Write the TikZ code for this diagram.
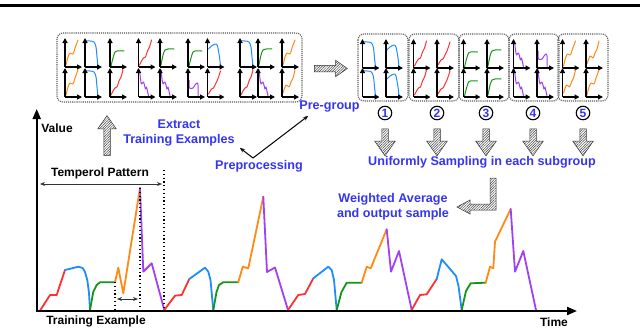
\documentclass[tikz,border=0pt]{standalone}
\usepackage{fontspec}
\setmainfont{Liberation Sans}
\usetikzlibrary{arrows.meta,positioning,shapes.arrows,patterns.meta}

\definecolor{segred}{HTML}{FF3030}
\definecolor{segblue}{HTML}{1E8CFF}
\definecolor{seggreen}{HTML}{149614}
\definecolor{segorange}{HTML}{FF8A14}
\definecolor{segpurple}{HTML}{A040F5}
\definecolor{labelblue}{HTML}{3434F2}

\tikzset{
  miniaxis/.style={line width=1.2pt, -{Triangle[length=5pt,width=5pt]}},
  minicurve/.style={line width=1pt, line join=round, line cap=round},
}

% curves of the small panels (x right, y up)
\newcommand{\curveoA}{\draw[minicurve,segorange] plot[smooth,tension=0.5] coordinates {(1,2) (3,10) (5,14) (8,13) (10,19) (13,27)};}
\newcommand{\curveoB}{\draw[minicurve,segorange] plot[smooth,tension=0.5] coordinates {(1,4) (4,12) (7,10) (9,15) (11,19) (13,27)};}
\newcommand{\curvebA}{\draw[minicurve,segblue] plot[smooth,tension=0.5] coordinates {(1,26) (5,26) (9,25) (11,20) (12,10) (13,1)};}
\newcommand{\curvebB}{\draw[minicurve,segblue] plot[smooth,tension=0.5] coordinates {(1,18) (4,21) (8,23) (10,21) (12,10) (13,1)};}
\newcommand{\curvegA}{\draw[minicurve,seggreen] plot[smooth,tension=0.5] coordinates {(1,1) (3,9) (5,15) (7,16) (14,16)};}
\newcommand{\curvegB}{\draw[minicurve,seggreen] plot[smooth,tension=0.5] coordinates {(1,2) (3,12) (5,17) (8,18) (14,18)};}
\newcommand{\curverA}{\draw[minicurve,segred] plot[smooth,tension=0.5] coordinates {(1,2) (3,6) (5,9) (7,10) (9,16) (11,20) (13,27)};}
\newcommand{\curverB}{\draw[minicurve,segred] plot[smooth,tension=0.5] coordinates {(1,3) (4,8) (6,9) (8,13) (10,17) (13,26)};}
\newcommand{\curvepA}{\draw[minicurve,segpurple] plot[smooth,tension=0.5] coordinates {(1,27) (2,18) (3,13) (5,15) (7,8) (8,10) (10,1)};}
\newcommand{\curvepB}{\draw[minicurve,segpurple] plot[smooth,tension=0.5] coordinates {(1,17) (1.5,9) (5,9) (7,12) (9,14) (10,12) (10,0)};}

% one small panel: origin x, origin y, curve
\newcommand{\miniplot}[3]{%
  \begin{scope}[shift={(#1,#2)},yscale=-1]
    \csname curve#3\endcsname
    \draw[miniaxis] (0,0) -- (0,29);
    \draw[miniaxis] (0,0) -- (17,0);
  \end{scope}}

\begin{document}
\begin{tikzpicture}[x=1pt, y=-1pt,
  bluelabel/.style={font=\fontsize{12.6}{15}\selectfont\bfseries, text=labelblue, inner sep=1pt, align=center},
  blacklabel/.style={font=\fontsize{12}{14}\selectfont\bfseries, inner sep=1pt},
  groupbox/.style={draw=black!65, line width=1.1pt, dash pattern=on 1.1pt off 1pt, rounded corners=6pt},
  hatcharrow/.style={single arrow, draw=black!80, line width=0.5pt,
    pattern={Lines[angle=45,distance=1.8pt,line width=0.5pt]}, pattern color=black!75,
    inner sep=3pt, single arrow head extend=6pt, single arrow tip angle=70, single arrow head indent=0pt},
  numcircle/.style={circle, draw=black, line width=1.1pt, minimum size=13.5pt, inner sep=0pt,
    text=labelblue, font=\fontsize{12}{12}\selectfont\bfseries},
  bigaxis/.style={line width=2pt, -{Triangle[length=10pt,width=8pt]}},
  wave/.style={line width=1.8pt, line join=round, line cap=round},
  guide/.style={line width=1.2pt, dash pattern=on 1.2pt off 2.6pt},
  thinarrow/.style={line width=1pt, -{Stealth[length=5pt,width=4pt]}},
  spanarrow/.style={line width=0.9pt, black!80, {Stealth[length=5pt,width=4pt]}-{Stealth[length=5pt,width=4pt]}}]
  \useasboundingbox (0,0) rectangle (640,330);

  % rule of the page above
  \draw[line width=2.6pt] (0,5.5) -- (640,5.5);

  % all extracted examples
  \draw[groupbox] (57,33) rectangle (302,102);
  \foreach \x/\kt/\kb in {65/oA/oA, 85/bA/bA, 110/gA/rA, 138.5/rA/pA, 160/gB/pA,
                          188/gA/pB, 207.5/bB/rB, 240/bA/rA, 258/gB/pA, 282/oA/oB}
    {\miniplot{\x}{67}{\kt}\miniplot{\x}{97}{\kb}}
  \node[hatcharrow, minimum height=33pt, single arrow head extend=5pt] (togroup) at (328.5,68.5) {};

  % five subgroups
  \foreach \c/\ka/\kb/\kc/\kd in {383/bA/bB/bA/bB, 434/rA/rB/rA/rB, 484/gA/gB/gA/gB,
                                  534/pA/pB/pA/pA, 583/oA/oB/oB/oA}{
    \draw[groupbox] (\c-25,34) rectangle (\c+25,101);
    \miniplot{\c-20.5}{68}{\ka}\miniplot{\c+3}{68}{\kb}
    \miniplot{\c-20.5}{97}{\kc}\miniplot{\c+3}{97}{\kd}
  }
  \foreach \x [count=\i] in {385,437,486,533,583}{
    \node[numcircle] (num\i) at (\x,113) {\i};
    \node[hatcharrow, rotate=-90, minimum height=27pt, single arrow head extend=7pt] (down\i) at (\x,140) {};
  }
  \node[bluelabel] (sampling) at (482,162) {Uniformly Sampling in each subgroup};

  % hooked arrow to the output
  \draw[draw=black!80, line width=0.5pt, pattern={Lines[angle=45,distance=1.8pt,line width=0.5pt]}, pattern color=black!75]
    (490,178) -- (496,178) -- (496,210) -- (470,210) -- (470,214) -- (457,207)
    -- (470,200) -- (470,204) -- (490,204) -- cycle;
  \node[bluelabel] (average) at (393,206.5) {Weighted Average\\and output sample};

  % preprocessing labels
  \node[bluelabel] (extract) at (179,132.5) {Extract\\Training Examples};
  \node[bluelabel] (prep) at (259,166) {Preprocessing};
  \node[bluelabel] (pregroup) at (329.5,106) {Pre-group};
  \coordinate (prepfork) at (253,158);
  \draw[thinarrow] (prepfork) -- ([shift={(4,1)}]extract.south east);
  \draw[thinarrow] (prepfork) -- ([shift={(10,3)}]pregroup.south west);
  \node[hatcharrow, rotate=90, minimum height=40pt] (toextract) at (107,138) {};

  % wave, period 1
  \draw[wave,segred] (40,310.7) -- (50,295) -- (56.7,295) -- (65,270);
  \draw[wave,segblue] (65,270) -- (78.3,266.7) -- (82.7,268) -- (85,272) -- (87.3,280) -- (89,293) -- (90,310);
  \draw[wave,seggreen] (90,310) -- (93.3,291.7) -- (96.7,285) -- (100,282.3) -- (115,282.3);
  \draw[wave,segorange] (115,282.3) -- (118.3,267.7) -- (123.3,293.3) -- (140,188);
  \draw[wave,segpurple] (140,188) -- (143.3,271.7) -- (151.7,263.3) -- (164.3,310);
  % wave, period 2
  \draw[wave,segred] (164.3,310) -- (175,295.7) -- (181.7,295) -- (189.3,279);
  \draw[wave,segblue] (189.3,279) -- (205,267.7) -- (208.3,271.7) -- (210.5,280) -- (213.3,310);
  \draw[wave,seggreen] (213.3,310) -- (216.5,292) -- (219,285) -- (223.3,282.3) -- (238.3,282.3);
  \draw[wave,segorange] (238.3,282.3) -- (242.7,266.7) -- (248.3,268.3) -- (263.3,196.7);
  \draw[wave,segpurple] (263.3,196.7) -- (267,272) -- (275,267.5) -- (288,310);
  % wave, period 3
  \draw[wave,segred] (288,310) -- (298.3,295) -- (305,294) -- (313.3,278.3);
  \draw[wave,segblue] (313.3,278.3) -- (328.3,266.7) -- (331.7,270) -- (334,280) -- (336.7,310);
  \draw[wave,seggreen] (336.7,310) -- (341.5,292) -- (346.7,282.7) -- (361.7,282.7);
  \draw[wave,segorange] (361.7,282.7) -- (366.7,266.7) -- (370.7,268.3) -- (386.7,229.3);
  \draw[wave,segpurple] (386.7,229.3) -- (391,271.7) -- (399,251) -- (411.7,310);
  % wave, period 4
  \draw[wave,segred] (411.7,310) -- (420,295) -- (426.7,294.3) -- (436.7,279);
  \draw[wave,segblue] (436.7,279) -- (441.7,259.3) -- (456,276) -- (458.5,286) -- (461.7,310);
  \draw[wave,seggreen] (461.7,310) -- (466,291) -- (470.7,283.3) -- (485.7,282.7);
  \draw[wave,segorange] (485.7,282.7) -- (490,266.7) -- (493.3,268.3) -- (495,241.7) -- (510.7,209);
  \draw[wave,segpurple] (510.7,209) -- (515,271.7) -- (523.3,251) -- (536,310);

  % axes
  \draw[bigaxis] (36.7,311) -- (36.7,109);
  \draw[bigaxis] (35.7,311) -- (577,311);
  \node[blacklabel] (value) at (57,128) {Value};
  \node[blacklabel] (time) at (554,322.5) {Time};

  % pattern and example spans
  \draw[guide] (164,170) -- (164,310);
  \draw[guide] (140,188) -- (140,310);
  \draw[guide] (115,282) -- (115,310);
  \node[blacklabel] (pattern) at (100,173) {Temperol Pattern};
  \coordinate (patl) at (40,184);
  \coordinate (patr) at (162,184);
  \draw[spanarrow] (patl) -- (patr);
  \coordinate (exl) at (117,299);
  \coordinate (exr) at (138,299);
  \draw[spanarrow] (exl) -- (exr);
  \node[blacklabel] (example) at (96,321.5) {Training Example};
\end{tikzpicture}
\end{document}
